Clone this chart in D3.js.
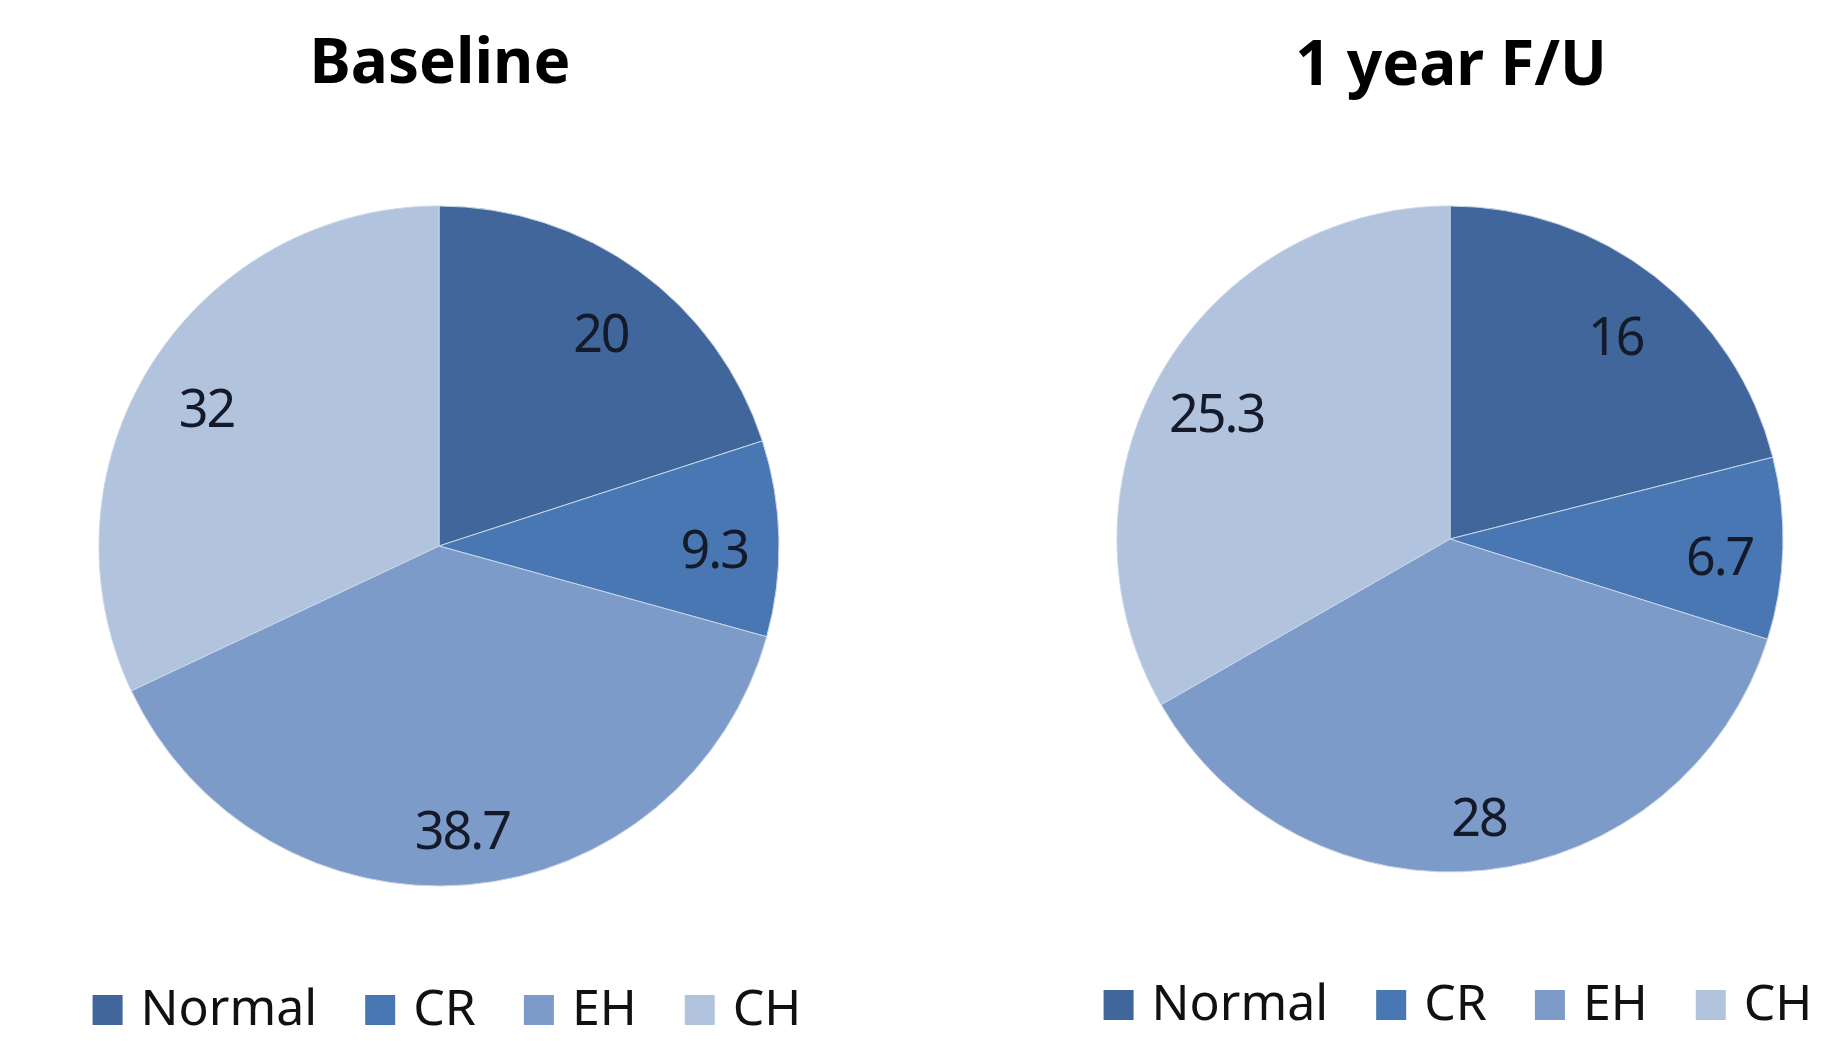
<!DOCTYPE html>
<html>
<head>
<meta charset="utf-8">
<script src="https://cdn.jsdelivr.net/npm/d3@7"></script>
<style>
  html, body { margin: 0; padding: 0; background: #fff; }
  svg { display: block; }
</style>
</head>
<body>
<svg id="chart"></svg>
<script>
// data
const categories = ["Normal", "CR", "EH", "CH"]
const baselineValues = [20, 9.3, 38.7, 32]
const followUpValues = [16, 6.7, 28, 25.3]
const chartTitles = ["Baseline", "1 year F/U"]
const sliceColors = ["#40669b", "#4977b3", "#7c9bc9", "#b2c3de"]

const full_width = 1846
const full_height = 1041

const svg = d3.select("#chart")
  .attr("width", full_width)
  .attr("height", full_height)
  .attr("viewBox", `0 0 ${full_width} ${full_height}`)

svg.append("rect")
  .attr("width", full_width)
  .attr("height", full_height)
  .attr("fill", "#fff")

const color = d3.scaleOrdinal().domain(categories).range(sliceColors)

// one panel per pie
const panels = [
  { title: chartTitles[0], values: baselineValues, cx: 439, cy: 546, r: 340, titleY: 83, legendY: 1025 },
  { title: chartTitles[1], values: followUpValues, cx: 1450, cy: 539, r: 333, titleY: 85, legendY: 1020 }
]

const pie = d3.pie().sort(null).value(d => d.value)

panels.forEach(p => {
  const data = categories.map((c, i) => ({ name: c, value: p.values[i] }))
  const arcs = pie(data)

  const arc = d3.arc().innerRadius(0).outerRadius(p.r)
  const labelArc = d3.arc().innerRadius(p.r * 0.81).outerRadius(p.r * 0.81)

  // title
  svg.append("text")
    .attr("x", p.cx + 1)
    .attr("y", p.titleY)
    .attr("text-anchor", "middle")
    .attr("font-family", "'Noto Sans', sans-serif")
    .attr("font-weight", "bold")
    .attr("font-size", "62px")
    .attr("fill", "#000")
    .text(p.title)

  const g = svg.append("g")
    .attr("transform", `translate(${p.cx}, ${p.cy})`)

  g.selectAll("path")
    .data(arcs)
    .enter()
    .append("path")
    .attr("d", arc)
    .attr("fill", d => color(d.data.name))
    .attr("stroke", "#c9d5e8")
    .attr("stroke-width", 1)

  // value labels
  g.selectAll("text")
    .data(arcs)
    .enter()
    .append("text")
    .attr("transform", d => {
      const [x, y] = labelArc.centroid(d)
      return `translate(${x}, ${y + 8})`
    })
    .attr("text-anchor", "middle")
    .attr("dominant-baseline", "central")
    .attr("font-family", "'Noto Sans', sans-serif")
    .attr("font-size", "52px")
    .attr("letter-spacing", "-2px")
    .attr("fill", "#141a2a")
    .text(d => d.data.value)

  // legend, laid out from measured text widths
  const legend = svg.append("g")
  const sq = 30, textGap = 18, itemGap = 48
  let x = 0
  categories.forEach(c => {
    const item = legend.append("g")
    item.append("rect")
      .attr("x", x)
      .attr("y", p.legendY - sq)
      .attr("width", sq)
      .attr("height", sq)
      .attr("fill", color(c))
    const t = item.append("text")
      .attr("x", x + sq + textGap)
      .attr("y", p.legendY)
      .attr("font-family", "'Noto Sans', sans-serif")
      .attr("font-size", "50px")
      .attr("fill", "#111")
      .text(c)
    x += sq + textGap + t.node().getComputedTextLength() + itemGap
  })
  const legendWidth = x - itemGap
  legend.attr("transform", `translate(${p.cx + 8 - legendWidth / 2}, 0)`)
})
</script>
</body>
</html>
